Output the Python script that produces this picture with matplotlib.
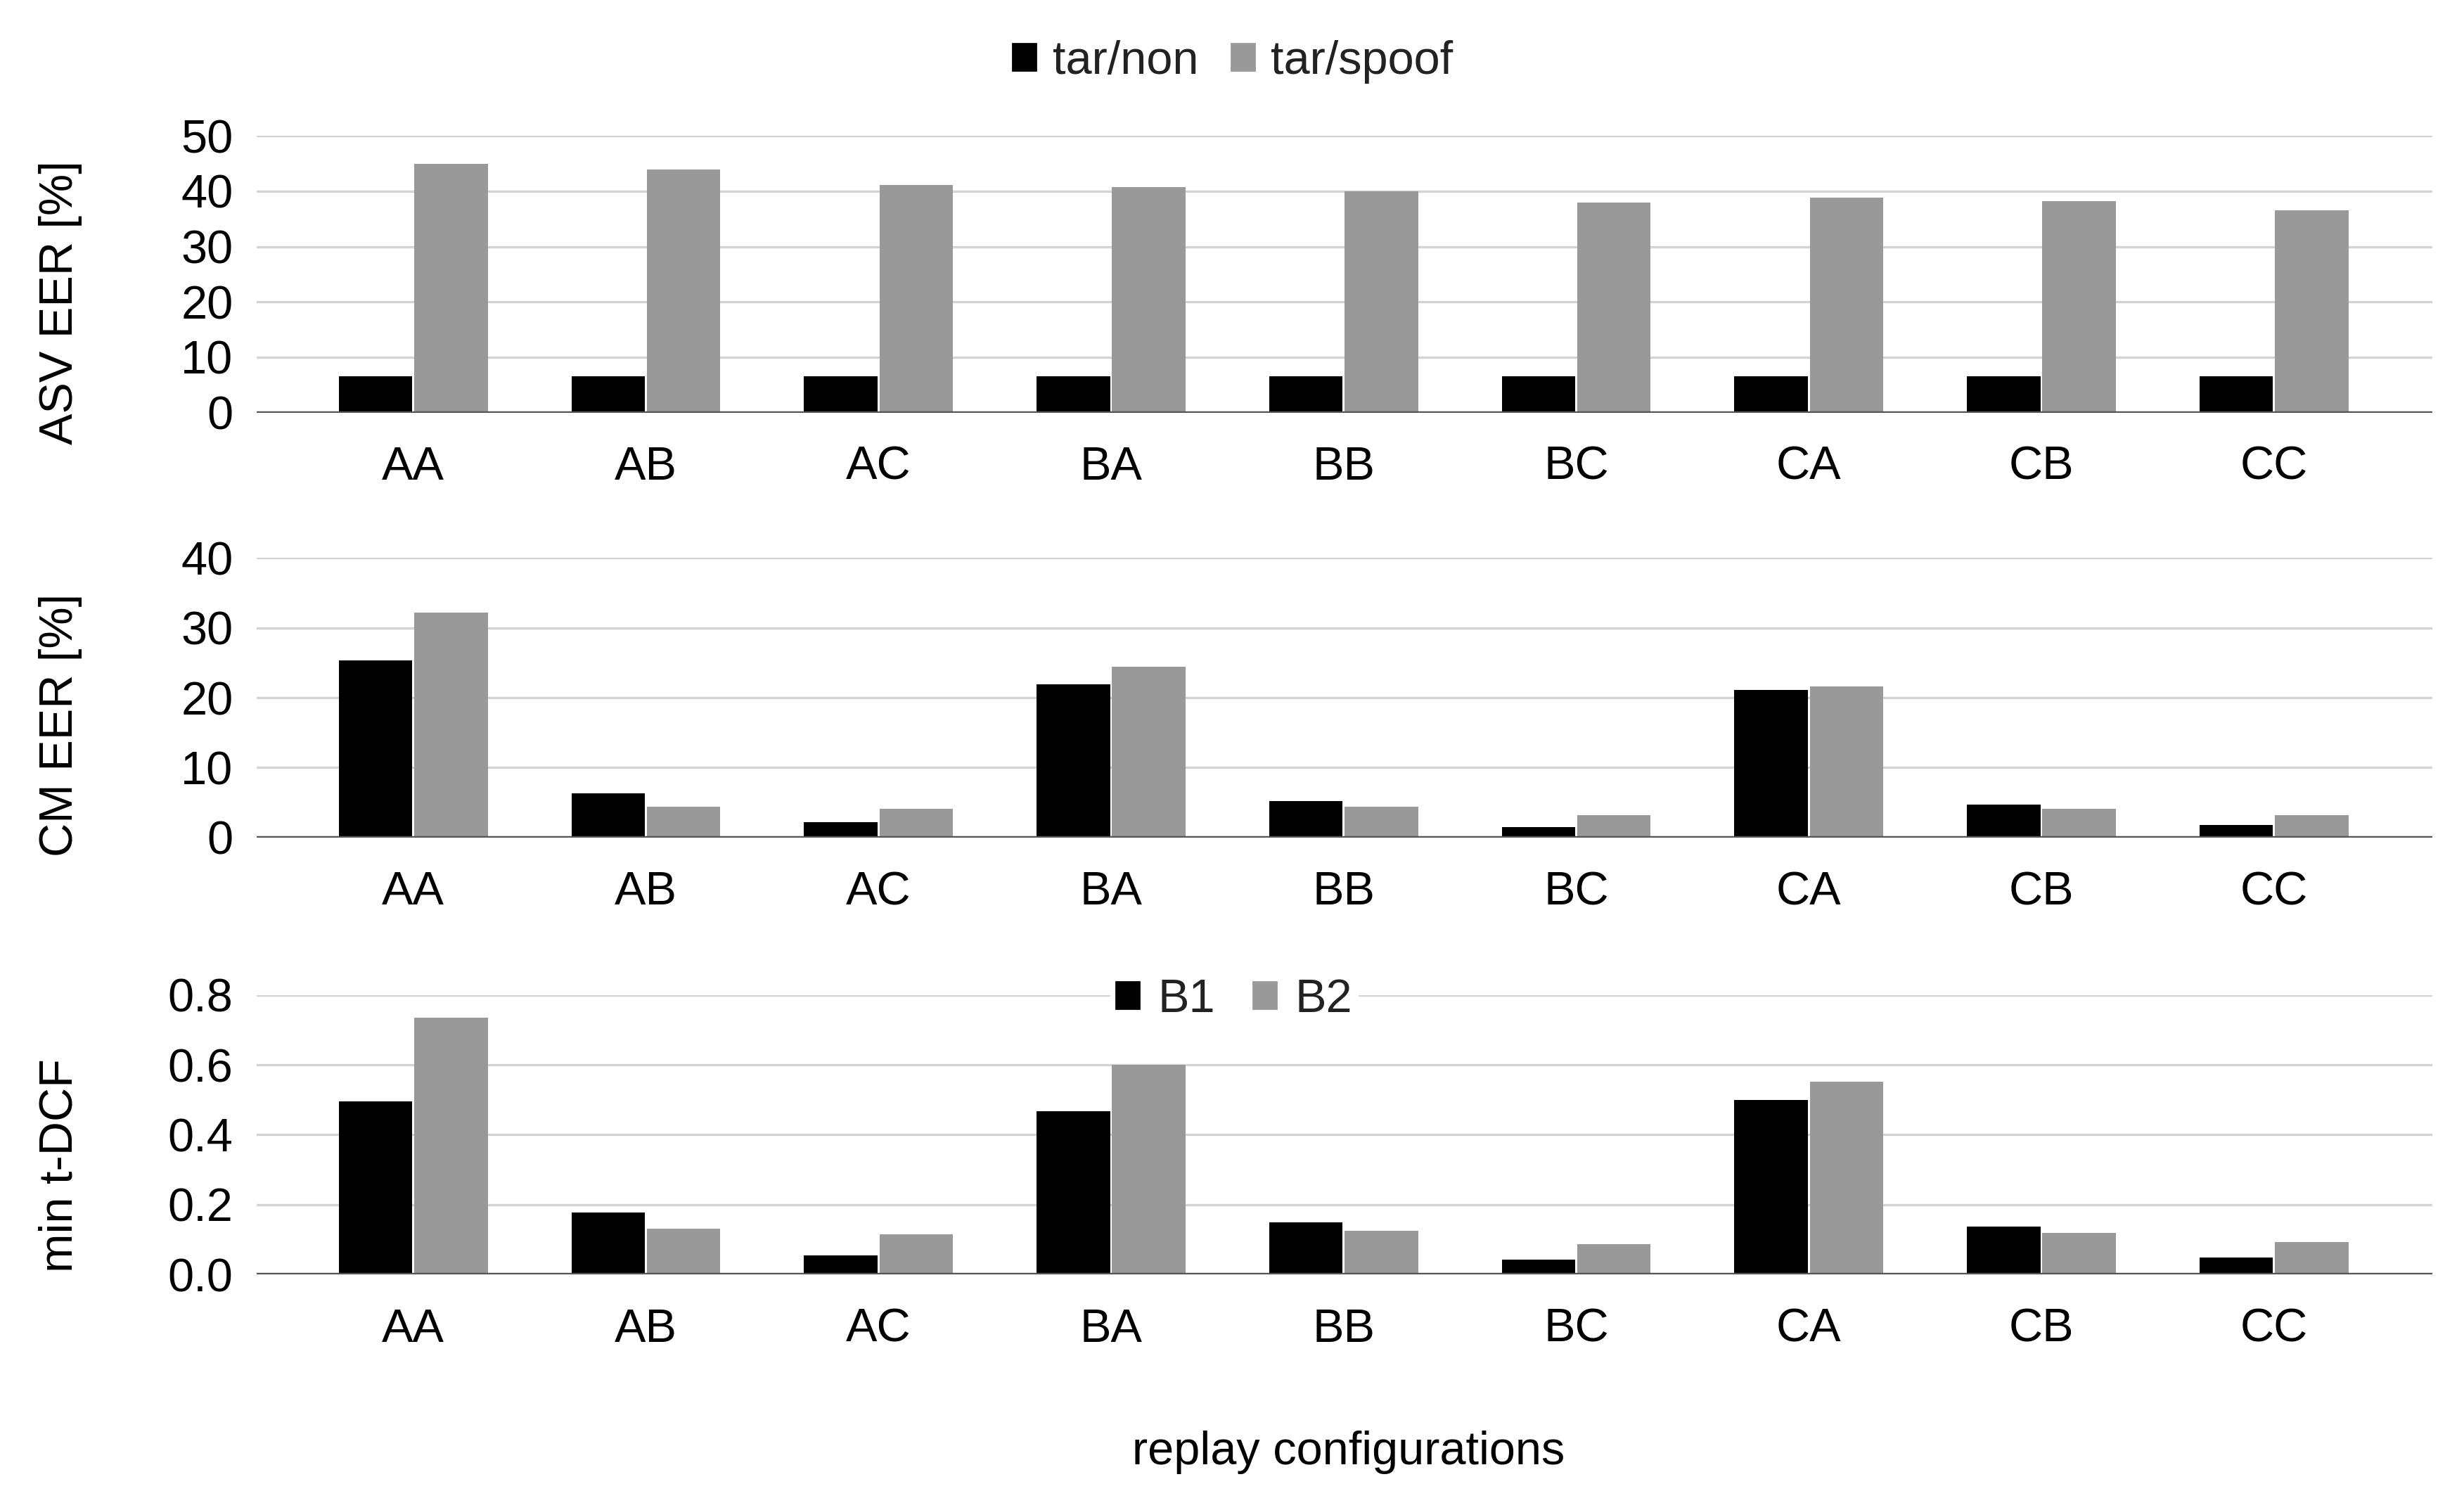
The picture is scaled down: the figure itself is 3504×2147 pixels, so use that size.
import numpy as np
import matplotlib
matplotlib.use("Agg")
import matplotlib.pyplot as plt
from matplotlib.patches import Patch

plt.rcParams['font.family'] = ['Liberation Sans', 'DejaVu Sans']

# replay configurations on the x axis
configs = ['AA', 'AB', 'AC', 'BA', 'BB', 'BC', 'CA', 'CB', 'CC']

# ASV EER [%]
asv_tar_non = [6.6, 6.6, 6.6, 6.6, 6.6, 6.6, 6.6, 6.6, 6.6]
asv_tar_spoof = [44.9, 43.9, 41.1, 40.7, 40.0, 37.9, 38.9, 38.2, 36.6]

# CM EER [%]
cm_b1 = [25.3, 6.3, 2.2, 21.9, 5.2, 1.5, 21.1, 4.7, 1.8]
cm_b2 = [32.2, 4.4, 4.1, 24.4, 4.4, 3.2, 21.6, 4.1, 3.2]

# min t-DCF
tdcf_b1 = [0.495, 0.177, 0.054, 0.467, 0.149, 0.043, 0.500, 0.137, 0.048]
tdcf_b2 = [0.735, 0.132, 0.116, 0.600, 0.126, 0.087, 0.551, 0.120, 0.093]

black = '#000000'
grey = '#999999'
fs = 24

fig = plt.figure(figsize=(17.525, 10.735), dpi=200)

left, width = 0.1041, 0.8827
ax1 = fig.add_axes([left, 0.7268, width, 0.1832])
ax2 = fig.add_axes([left, 0.4453, width, 0.1853])
ax3 = fig.add_axes([left, 0.1559, width, 0.1852])

x = np.arange(len(configs))
bw = 0.316
off = 0.162


def style(ax, ymax, step, fmt):
    ax.set_xlim(-0.674, 8.68)
    ax.set_ylim(0, ymax)
    ax.set_yticks(np.arange(0, ymax + step / 2, step))
    ax.yaxis.set_major_formatter(matplotlib.ticker.FormatStrFormatter(fmt))
    ax.set_xticks(x)
    ax.set_xticklabels(configs)
    for s in ax.spines.values():
        s.set_visible(False)
    ax.tick_params(axis='both', length=0, labelsize=fs)
    ax.tick_params(axis='x', pad=17)
    ax.tick_params(axis='y', pad=12)
    ax.grid(axis='y', color='#d4d4d4', linewidth=1.2)
    ax.set_axisbelow(True)
    ax.axhline(0, color='#555555', linewidth=1.6, zorder=3)


ax1.bar(x - off, asv_tar_non, bw, color=black)
ax1.bar(x + off, asv_tar_spoof, bw, color=grey)
style(ax1, 50, 10, '%d')

ax2.bar(x - off, cm_b1, bw, color=black)
ax2.bar(x + off, cm_b2, bw, color=grey)
style(ax2, 40, 10, '%d')

ax3.bar(x - off, tdcf_b1, bw, color=black)
ax3.bar(x + off, tdcf_b2, bw, color=grey)
style(ax3, 0.8, 0.2, '%.1f')

# y labels
fig.text(0.0245, 0.7995, 'ASV EER [%]', rotation=90, ha='center', va='center', fontsize=fs)
fig.text(0.0245, 0.5200, 'CM EER [%]', rotation=90, ha='center', va='center', fontsize=fs)
fig.text(0.0245, 0.2280, 'min t-DCF', rotation=90, ha='center', va='center', fontsize=fs)

fig.text(0.547, 1 - 2065 / 2147, 'replay configurations', ha='center', va='center', fontsize=fs)

# legends
top_handles = [Patch(color=black, label='tar/non'), Patch(color=grey, label='tar/spoof')]
fig.legend(handles=top_handles, loc='center', bbox_to_anchor=(0.5002, 1 - 88 / 2147),
           ncol=2, frameon=False, fontsize=fs, handlelength=0.5, handleheight=0.5,
           handletextpad=0.35, columnspacing=0.7, labelcolor='#222222')

b_handles = [Patch(color=black, label='B1'), Patch(color=grey, label='B2')]
leg = ax3.legend(handles=b_handles, loc='center', bbox_to_anchor=(1755 / 3505, 1 - 1422 / 2147),
                 bbox_transform=fig.transFigure, ncol=2, frameon=True, fontsize=fs,
                 handlelength=0.5, handleheight=0.5, handletextpad=0.4, columnspacing=0.8,
                 borderpad=0.1, borderaxespad=0, fancybox=False, labelcolor='#222222')
leg.get_frame().set_facecolor('white')
leg.get_frame().set_edgecolor('white')
leg.get_frame().set_alpha(1)

fig.savefig('out.png', dpi=200)
